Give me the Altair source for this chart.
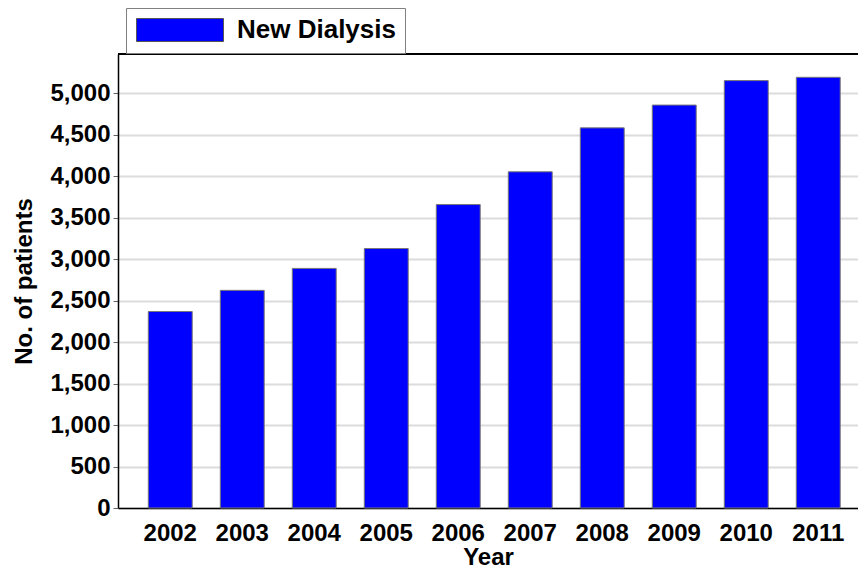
import altair as alt
import pandas as pd

years = ["2002", "2003", "2004", "2005", "2006", "2007", "2008", "2009", "2010", "2011"]
patients = [2370, 2625, 2890, 3130, 3660, 4055, 4585, 4860, 5155, 5195]
series = ["New Dialysis"] * len(years)
y_ticks = [0, 500, 1000, 1500, 2000, 2500, 3000, 3500, 4000, 4500, 5000]

df = pd.DataFrame({"Year": years, "Patients": patients, "Series": series})

FONT = "Liberation Sans"
W, H = 740, 454

bars = alt.Chart(df).mark_bar(stroke="#777777", strokeWidth=1).encode(
    x=alt.X("Year:N", title="Year",
            scale=alt.Scale(paddingInner=0.39, paddingOuter=0.334, align=0.63),
            axis=alt.Axis(labelAngle=0, ticks=False, tickSize=0, labelPadding=13,
                          titlePadding=0, domainColor="black", domainWidth=1.5,
                          grid=False)),
    y=alt.Y("Patients:Q", title="No. of patients",
            scale=alt.Scale(domain=[0, 5476], nice=False, zero=True),
            axis=alt.Axis(values=y_ticks, format=",d", tickSize=5, tickColor="#666666",
                          labelPadding=3, titlePadding=13, domainColor="black",
                          domainWidth=1.5, gridColor="#dcdcdc", gridWidth=2)),
    color=alt.Color("Series:N", scale=alt.Scale(domain=["New Dialysis"], range=["#0000ff"]),
                    legend=alt.Legend(title=None, orient="none", legendX=8, legendY=-46,
                                      symbolType="M-3.78,-1H3.78V1H-3.78Z", symbolSize=529,
                                      symbolOffset=32,
                                      symbolStrokeColor="#555555", symbolStrokeWidth=1,
                                      labelFont=FONT, labelFontSize=26, labelFontWeight="bold",
                                      labelColor="black", labelOffset=44, padding=9,
                                      strokeColor="#808080", fillColor="white")),
)

frame = alt.Chart(df).mark_rule(color="black", strokeWidth=1.5).encode(
    x=alt.value(0), x2=alt.value(W), y=alt.value(0)
)

chart = alt.layer(bars, frame).properties(
    width=W, height=H,
    autosize=alt.AutoSizeParams(type="none"),
    padding={"left": 110, "top": 46, "right": 0, "bottom": 62},
).configure_axis(
    labelFont=FONT, labelFontSize=24, labelFontWeight="bold", labelColor="black",
    titleFont=FONT, titleFontSize=24, titleFontWeight="bold", titleColor="black",
).configure_view(stroke=None)

chart.save("out.html", embed_options={"renderer": "svg", "actions": False})
